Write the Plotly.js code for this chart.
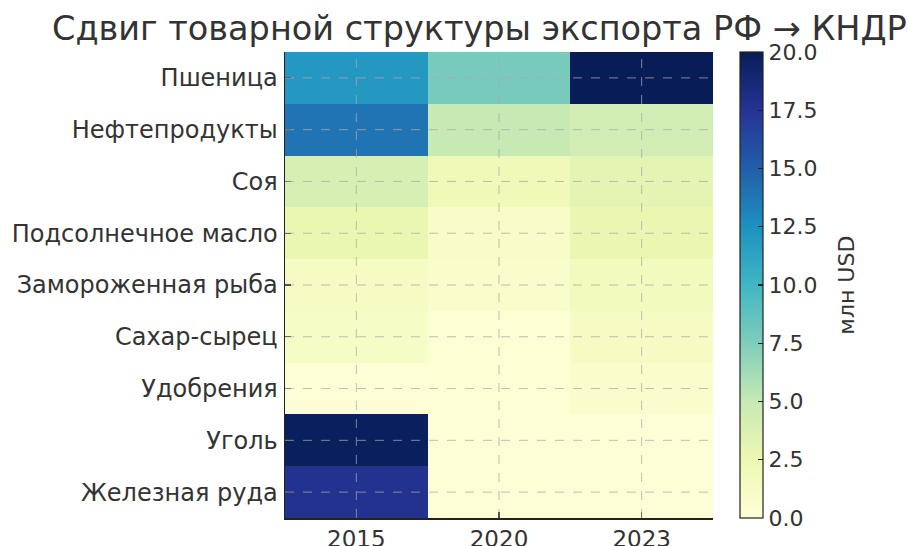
<!DOCTYPE html>
<html>
<head>
<meta charset="utf-8">
<script src="https://cdn.plot.ly/plotly-3.0.1.min.js"></script>
<style>html,body{margin:0;padding:0;background:#fff;}#chart{width:908px;height:546px;}</style>
</head>
<body>
<div id="chart"></div>
<script>
// Data (млн USD)
const years = ['2015', '2020', '2023'];
const goods = ['Пшеница', 'Нефтепродукты', 'Соя', 'Подсолнечное масло', 'Замороженная рыба', 'Сахар-сырец', 'Удобрения', 'Уголь', 'Железная руда'];
const v2015 = [12.0, 13.9, 4.0, 2.7, 1.3, 1.25, 0.25, 19.8, 17.7];
const v2020 = [7.8, 5.0, 2.1, 1.0, 0.9, 0.4, 0.3, 0.25, 0.2];
const v2023 = [20.0, 4.3, 3.1, 2.6, 1.75, 1.45, 0.9, 0.2, 0.2];
const colorTicks = [0, 2.5, 5, 7.5, 10, 12.5, 15, 17.5, 20];

const z = goods.map((g, i) => [v2015[i], v2020[i], v2023[i]]);

const ylgnbu = [
  [0.0, '#ffffd9'], [0.125, '#edf8b1'], [0.25, '#c7e9b4'], [0.375, '#7fcdbb'],
  [0.5, '#41b6c4'], [0.625, '#1d91c0'], [0.75, '#225ea8'], [0.875, '#253494'], [1.0, '#081d58']
];

const font = 'DejaVu Sans, sans-serif';
const txt = '#333333';

const trace = {
  type: 'heatmap',
  x: years,
  y: goods,
  z: z,
  zmin: 0,
  zmax: 20,
  colorscale: ylgnbu,
  xgap: 0, ygap: 0,
  colorbar: {
    x: 1.063, xanchor: 'left', xpad: 0,
    y: 0.5, yanchor: 'middle', ypad: 0,
    len: 1, lenmode: 'fraction',
    thickness: 23, thicknessmode: 'pixels',
    outlinewidth: 1.2, outlinecolor: '#222',
    tickmode: 'array', tickvals: colorTicks,
    ticktext: colorTicks.map(t => t.toFixed(1)),
    ticks: 'inside', ticklen: 5, tickwidth: 1.2, tickcolor: '#222',
    ticklabelstandoff: 7,
    tickfont: {family: font, size: 22, color: txt}
  }
};

const gridLine = {color: 'rgba(170,170,170,0.75)', width: 1, dash: 'dash'};
const shapes = years.map((yr, i) => ({
  type: 'line', xref: 'x', yref: 'paper', x0: i, x1: i, y0: 0, y1: 1,
  line: gridLine, layer: 'above'
})).concat(goods.map((g, i) => ({
  type: 'line', xref: 'paper', yref: 'y', x0: 0, x1: 1, y0: i, y1: i,
  line: gridLine, layer: 'above'
})));

const layout = {
  width: 908, height: 546,
  margin: {l: 285, r: 195, t: 52, b: 28, pad: 0},
  paper_bgcolor: '#fff', plot_bgcolor: '#fff',
  title: {
    text: 'Сдвиг товарной структуры экспорта РФ → КНДР',
    font: {family: font, size: 33.5, color: txt},
    xref: 'container', x: 0.528, xanchor: 'center',
    yref: 'container', y: 0.948, yanchor: 'middle'
  },
  annotations: [{
    text: 'млн USD', textangle: -90, showarrow: false,
    xref: 'paper', yref: 'paper', x: 1.31, y: 0.5, xanchor: 'center', yanchor: 'middle',
    font: {family: font, size: 22, color: txt}
  }],
  xaxis: {
    type: 'category', showgrid: false, zeroline: false,
    showline: true, linecolor: '#222', linewidth: 1.5,
    ticks: 'inside', ticklen: 6, tickwidth: 1.2, tickcolor: '#222',
    ticklabelstandoff: 0,
    tickfont: {family: font, size: 23, color: txt},
    layer: 'above traces'
  },
  yaxis: {
    type: 'category', autorange: 'reversed', showgrid: false, zeroline: false,
    showline: true, linecolor: '#222', linewidth: 1.5,
    ticks: 'inside', ticklen: 6, tickwidth: 1.2, tickcolor: '#222',
    ticklabelstandoff: 1,
    tickfont: {family: font, size: 24, color: txt},
    layer: 'above traces'
  },
  shapes: shapes
};

Plotly.newPlot('chart', [trace], layout, {displayModeBar: false, staticPlot: true});
</script>
</body>
</html>
